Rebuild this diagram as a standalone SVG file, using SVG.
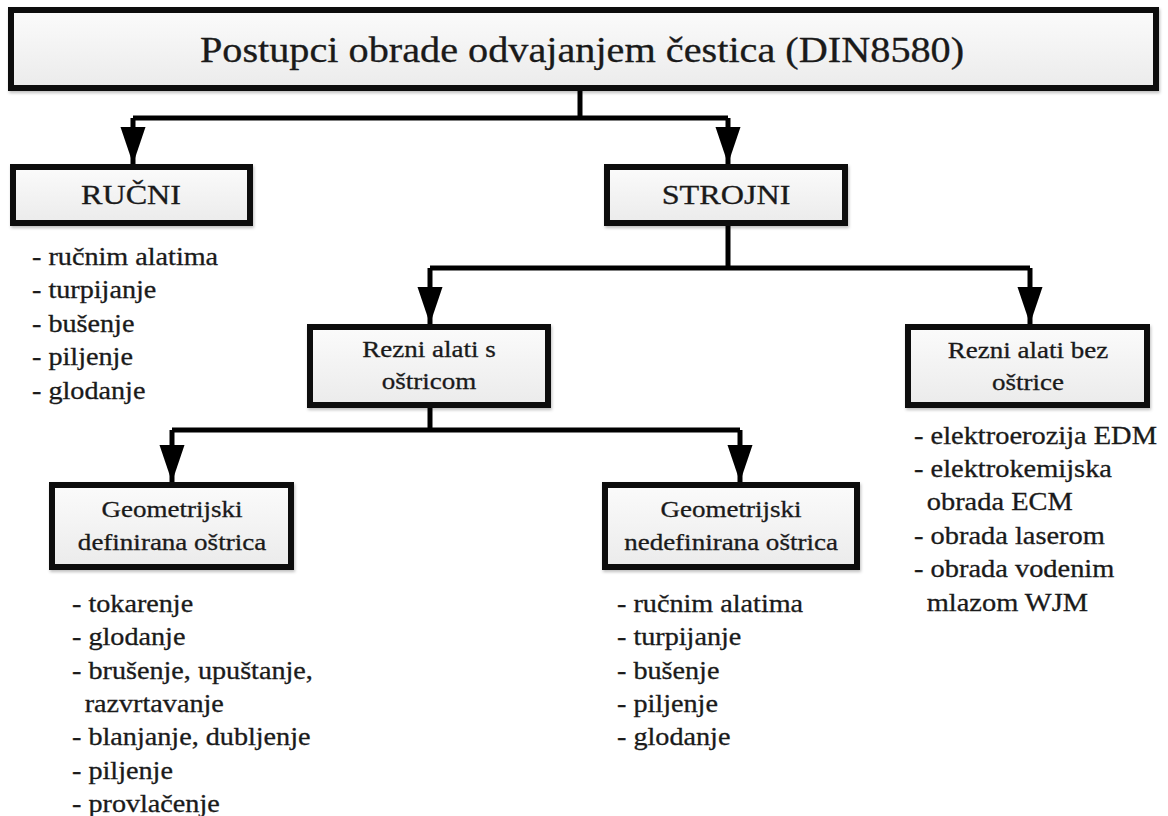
<svg xmlns="http://www.w3.org/2000/svg" width="1168" height="816" viewBox="0 0 1168 816">
<style>
.box{fill:url(#bg);stroke:#111;stroke-width:6;filter:url(#sh)}
.ln{fill:none;stroke:#000;stroke-width:5;stroke-linejoin:round}
text{font-family:"Liberation Serif","Times New Roman",serif;fill:#1a1a1a;stroke:#1a1a1a;stroke-width:0.3}
.title{font-size:35px;text-anchor:middle}
.big{font-size:28px;text-anchor:middle}
.lbl text{font-size:23.5px;text-anchor:middle}
.li text{font-size:24.5px}
</style>
<defs>
<linearGradient id="bg" x1="0" y1="0" x2="0" y2="1">
<stop offset="0" stop-color="#fbfbfb"/>
<stop offset="1" stop-color="#ebebeb"/>
</linearGradient>
<filter id="sh" x="-5%" y="-10%" width="110%" height="125%">
<feDropShadow dx="1" dy="2" stdDeviation="1.5" flood-color="#000" flood-opacity="0.25"/>
</filter>
<marker id="ah" viewBox="0 -14 38 28" markerWidth="38" markerHeight="28" refX="37" refY="0" orient="auto" markerUnits="userSpaceOnUse">
<path d="M0,-12.5 L37,0 L0,12.5 z" fill="#000"/>
</marker>
</defs>
<rect width="1168" height="816" fill="#fff"/>

<g id="connectors">
<path class="ln" d="M580 88 V118"/>
<path class="ln" d="M133 118 H728"/>
<path class="ln" d="M133 118 V164" marker-end="url(#ah)"/>
<path class="ln" d="M728 118 V164" marker-end="url(#ah)"/>
<path class="ln" d="M728 223 V268"/>
<path class="ln" d="M430 268 H1030"/>
<path class="ln" d="M430 268 V324" marker-end="url(#ah)"/>
<path class="ln" d="M1030 268 V324" marker-end="url(#ah)"/>
<path class="ln" d="M430 405 V430"/>
<path class="ln" d="M172 430 H740"/>
<path class="ln" d="M172 430 V482" marker-end="url(#ah)"/>
<path class="ln" d="M740 430 V482" marker-end="url(#ah)"/>
</g>

<g id="root">
<rect class="box" x="11" y="10" width="1145" height="78"/>
<text class="title" x="0" y="62" transform="translate(582 0) scale(1.15 1)">Postupci obrade odvajanjem čestica (DIN8580)</text>
</g>

<g id="rucni">
<rect class="box" x="13" y="167" width="237" height="56"/>
<text class="big" x="0" y="204" transform="translate(131 0) scale(1.15 1)">RUČNI</text>
</g>
<g id="rucni-list" class="li" transform="translate(32 0) scale(1.15 1)">
<text x="0" y="265">- ručnim alatima</text>
<text x="0" y="298">- turpijanje</text>
<text x="0" y="332">- bušenje</text>
<text x="0" y="365">- piljenje</text>
<text x="0" y="399">- glodanje</text>
</g>

<g id="strojni">
<rect class="box" x="607" y="167" width="238" height="56"/>
<text class="big" x="0" y="204" transform="translate(726 0) scale(1.15 1)">STROJNI</text>
</g>

<g id="rezni-s">
<rect class="box" x="310" y="327" width="238" height="78"/>
<g class="lbl" transform="translate(429 0) scale(1.15 1)">
<text x="0" y="357">Rezni alati s</text>
<text x="0" y="389">oštricom</text>
</g>
</g>

<g id="rezni-bez">
<rect class="box" x="908" y="327" width="239" height="78"/>
<g class="lbl" transform="translate(1028 0) scale(1.15 1)">
<text x="0" y="358">Rezni alati bez</text>
<text x="0" y="390">oštrice</text>
</g>
</g>
<g id="rezni-bez-list" class="li" transform="translate(914 0) scale(1.16 1)">
<text x="0" y="444">- elektroerozija EDM</text>
<text x="0" y="477">- elektrokemijska</text>
<text x="11" y="510">obrada ECM</text>
<text x="0" y="544">- obrada laserom</text>
<text x="0" y="577">- obrada vodenim</text>
<text x="11" y="611">mlazom WJM</text>
</g>

<g id="geo-def">
<rect class="box" x="52" y="485" width="239" height="82"/>
<g class="lbl" transform="translate(172 0) scale(1.15 1)">
<text x="0" y="517">Geometrijski</text>
<text x="0" y="550">definirana oštrica</text>
</g>
</g>
<g id="geo-def-list" class="li" transform="translate(72 0) scale(1.15 1)">
<text x="0" y="612">- tokarenje</text>
<text x="0" y="645">- glodanje</text>
<text x="0" y="679">- brušenje, upuštanje,</text>
<text x="11" y="712">razvrtavanje</text>
<text x="0" y="745">- blanjanje, dubljenje</text>
<text x="0" y="779">- piljenje</text>
<text x="0" y="812">- provlačenje</text>
</g>

<g id="geo-nedef">
<rect class="box" x="605" y="485" width="252" height="82"/>
<g class="lbl" transform="translate(731 0) scale(1.15 1)">
<text x="0" y="517">Geometrijski</text>
<text x="0" y="550">nedefinirana oštrica</text>
</g>
</g>
<g id="geo-nedef-list" class="li" transform="translate(617 0) scale(1.15 1)">
<text x="0" y="612">- ručnim alatima</text>
<text x="0" y="645">- turpijanje</text>
<text x="0" y="679">- bušenje</text>
<text x="0" y="712">- piljenje</text>
<text x="0" y="745">- glodanje</text>
</g>
</svg>
